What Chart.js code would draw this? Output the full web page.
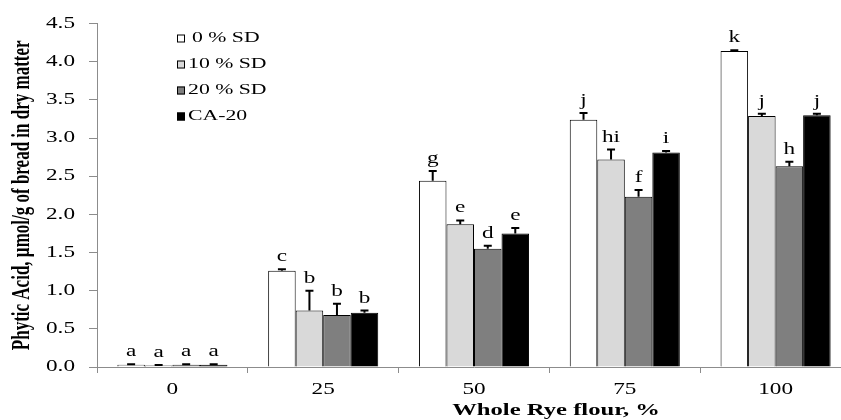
<!DOCTYPE html>
<html>
<head>
<meta charset="utf-8">
<script src="https://cdn.jsdelivr.net/npm/chart.js@4/dist/chart.umd.min.js"></script>
<style>
  html, body { margin: 0; padding: 0; background: #fff; overflow: hidden; }
  #box { width: 860px; height: 420px; }
</style>
</head>
<body>
<div id="box"><canvas id="grafico" width="860" height="420"></canvas></div>
<script>
// Dati
const categorie = ['0', '25', '50', '75', '100'];
const serie = ['0 % SD', '10 % SD', '20 % SD', 'CA-20'];

const valori0 = [0.03, 1.26, 2.44, 3.24, 4.14];
const valori10 = [0.02, 0.74, 1.87, 2.72, 3.29];
const valori20 = [0.03, 0.68, 1.55, 2.23, 2.63];
const valoriCA = [0.03, 0.71, 1.75, 2.81, 3.30];

const errori0 = [0.005, 0.02, 0.13, 0.09, 0.01];
const errori10 = [0.005, 0.26, 0.05, 0.13, 0.03];
const errori20 = [0.005, 0.15, 0.04, 0.09, 0.06];
const erroriCA = [0.005, 0.03, 0.07, 0.02, 0.02];

const lettere0 = ['a', 'c', 'g', 'j', 'k'];
const lettere10 = ['a', 'b', 'e', 'hi', 'j'];
const lettere20 = ['a', 'b', 'd', 'f', 'h'];
const lettereCA = ['a', 'b', 'e', 'i', 'j'];

const valori = [valori0, valori10, valori20, valoriCA];
const errori = [errori0, errori10, errori20, erroriCA];
const lettere = [lettere0, lettere10, lettere20, lettereCA];
const colori = ['#ffffff', '#d9d9d9', '#7f7f7f', '#000000'];

const FONT = '"Liberation Serif", "Times New Roman", serif';
const GRIGIO = '#8c8c8c';

// Il riferimento ha il testo allargato in orizzontale
const STIRAMENTO = 1.45;
const ctx = document.getElementById('grafico').getContext('2d');
const fillTextOrig = ctx.fillText;
ctx.fillText = function (testo, x, y, maxW) {
    const m = this.getTransform();
    const px = m.a * x + m.c * y + m.e;
    const py = m.b * x + m.d * y + m.f;
    this.save();
    this.setTransform(new DOMMatrix().translate(px, py).scale(STIRAMENTO, 1).translate(-px, -py).multiply(m));
    if (maxW === undefined) fillTextOrig.call(this, testo, x, y);
    else fillTextOrig.call(this, testo, x, y, maxW);
    this.restore();
};

// Barre di errore, lettere, legenda e titolo asse x
const decorazioni = {
    id: 'decorazioni',
    afterDatasetsDraw(chart) {
        const c = chart.ctx;
        const scalaY = chart.scales.y;
        chart.data.datasets.forEach((ds, i) => {
            chart.getDatasetMeta(i).data.forEach((barra, j) => {
                const cima = scalaY.getPixelForValue(ds.data[j] + errori[i][j]);
                c.save();
                c.strokeStyle = '#000';
                c.lineWidth = 2;
                c.beginPath();
                c.moveTo(barra.x, barra.y);
                c.lineTo(barra.x, cima);
                c.moveTo(barra.x - 4, cima);
                c.lineTo(barra.x + 4, cima);
                c.stroke();
                c.fillStyle = '#000';
                c.font = '16px ' + FONT;
                c.textAlign = 'center';
                c.textBaseline = 'alphabetic';
                c.fillText(lettere[i][j], barra.x, cima - 8);
                c.restore();
            });
        });
    },
    afterDraw(chart) {
        const c = chart.ctx;
        c.save();
        // legenda
        chart.data.datasets.forEach((ds, i) => {
            const y = 38.5 + i * 26;
            c.fillStyle = ds.backgroundColor;
            c.fillRect(177, y - 4, 8, 8);
            c.strokeStyle = '#000';
            c.lineWidth = 1;
            c.strokeRect(177.5, y - 3.5, 7, 7);
            c.fillStyle = '#000';
            c.font = '15px ' + FONT;
            c.textAlign = 'left';
            c.textBaseline = 'middle';
            c.fillText(ds.label, i === 0 ? 192 : 188, y);
        });
        // titolo asse x
        c.font = 'bold 17px ' + FONT;
        c.textAlign = 'center';
        c.textBaseline = 'alphabetic';
        c.fillText('Whole Rye flour, %', 556, 415);
        c.restore();
    }
};

new Chart(ctx, {
    type: 'bar',
    data: {
        labels: categorie,
        datasets: serie.map((nome, i) => ({
            label: nome,
            data: valori[i],
            backgroundColor: colori[i],
            borderColor: '#000',
            borderWidth: 1,
            borderSkipped: 'bottom',
            categoryPercentage: 0.73,
            barPercentage: 1
        }))
    },
    options: {
        responsive: false,
        animation: false,
        devicePixelRatio: 1,
        layout: { padding: { top: 20, right: 9, left: 0, bottom: 0 } },
        plugins: {
            legend: { display: false },
            tooltip: { enabled: false }
        },
        scales: {
            x: {
                grid: { drawOnChartArea: false, tickLength: 6, color: GRIGIO, offset: true },
                border: { color: GRIGIO },
                ticks: { color: '#000', font: { family: FONT, size: 16 }, padding: 7 },
                afterFit: s => { s.height = 53; }
            },
            y: {
                min: 0,
                max: 4.5,
                ticks: {
                    stepSize: 0.5,
                    color: '#000',
                    font: { family: FONT, size: 16 },
                    padding: 14,
                    callback: v => Number(v).toFixed(1)
                },
                grid: { drawOnChartArea: false, tickLength: 8, color: GRIGIO },
                border: { color: GRIGIO },
                title: {
                    display: true,
                    text: 'Phytic Acid, µmol/g of bread in dry matter',
                    color: '#000',
                    font: { family: FONT, size: 17, weight: 'bold' },
                    padding: { top: 12, bottom: 0 }
                },
                afterFit: s => { s.width = 97; }
            }
        }
    },
    plugins: [decorazioni]
});
</script>
</body>
</html>
